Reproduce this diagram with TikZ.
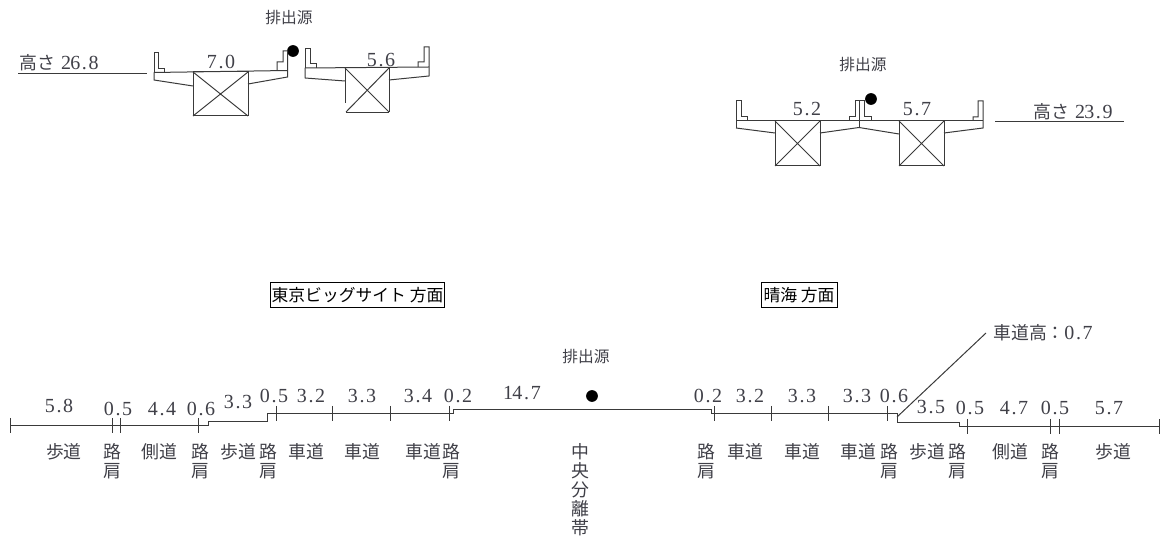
\documentclass[tikz,border=0pt]{standalone}
\usepackage{fontspec}
\setmainfont{Liberation Serif}
\newfontfamily\cjk{Noto Sans CJK JP}
\newcommand{\cl}[1]{\makebox[6.9pt]{#1}}
\newcommand{\nlab}[2]{\cl{#1}\cl{.}\cl{#2}}
\newcommand{\nnlab}[3]{\cl{#1}\cl{#2}\cl{.}\cl{#3}}
\newcommand{\numsize}{\fontsize{15}{16}\selectfont}
\definecolor{ink}{HTML}{3A3A3A}
\definecolor{txt}{HTML}{404048}
\tikzset{
 ln/.style={draw=ink,line width=0.75pt,line join=miter},
 num/.style={text=txt,font=\numsize,inner sep=0pt},
 cat/.style={text=txt,font=\cjk\fontsize{13.4}{14.25}\selectfont,inner sep=0pt,align=center,anchor=north},
 src/.style={text=txt,font=\cjk\fontsize{11.8}{14}\selectfont,inner sep=0pt},
 dir/.style={text=black,font=\cjk\fontsize{12.6}{14}\selectfont,inner sep=0pt,draw=black,line width=0.75pt,minimum height=19pt},
 dot/.style={circle,fill=black,inner sep=0pt,minimum size=8.8pt},
}
\begin{document}
\begin{tikzpicture}[x=0.75pt,y=-0.75pt]
\useasboundingbox (0,0) rectangle (1165,541);
% upper left
\node[src] (srcA) at (289,18) {排出源};
\node[dot] (dotA) at (293,51) {};
\draw[ln] (18,74) -- (147,74);
\node[cat,anchor=center] (hA) at (59,63) {高さ\,\,{\rmfamily\numsize\nnlab{2}{6}{8}}};
\node[num] (a70) at (221,62) {\nlab{7}{0}};
\node[num] (a56) at (381,60) {\nlab{5}{6}};
\draw[ln] (154,72.5) -- (154,53) -- (158.5,53) -- (158.5,69) -- (164,69) -- (164,72);
\draw[ln] (154,72.5) -- (287.5,70.5);
\draw[ln] (154,72.5) -- (154,80) -- (193,86);
\draw[ln] (193,72) rectangle (248,116);
\draw[ln] (193,72) -- (248,116) (248,72) -- (193,116);
\draw[ln] (248,84) -- (287.5,77) -- (287.5,51) -- (283,51) -- (283,62) -- (277,62) -- (277,70.5);
\draw[ln] (305,68) -- (305,49) -- (310,49) -- (310,64) -- (316,64) -- (316,68);
\draw[ln] (305,68) -- (429,67);
\draw[ln] (305,68) -- (305,78) -- (345,81);
\draw[ln] (345,103) -- (345,68) -- (389,68) -- (389,112);
\draw[ln,line width=1.2pt] (346,112.5) -- (389,112.5);
\draw[ln] (345,68) -- (389,112) (389,68) -- (346,112);
\draw[ln] (389,80) -- (429,76) -- (429,47) -- (424,47) -- (424,62) -- (418,62) -- (418,67);
% upper right
\node[src] (srcB) at (863,65) {排出源};
\node[dot] (dotB) at (871,99) {};
\draw[ln] (995,121.5) -- (1124,121.5);
\node[cat,anchor=center] (hB) at (1073,112) {高さ\,\,{\rmfamily\numsize\nnlab{2}{3}{9}}};
\node[num] (b52) at (807,109) {\nlab{5}{2}};
\node[num] (b57) at (917,109) {\nlab{5}{7}};
\draw[ln] (736,121) -- (983,121);
\draw[ln] (736,128) -- (736,101) -- (741,101) -- (741,117) -- (747,117) -- (747,121);
\draw[ln] (736,128) -- (775,133);
\draw[ln] (775,121) rectangle (820,166);
\draw[ln] (775,121) -- (820,166) (820,121) -- (775,166);
\draw[ln] (820,133) -- (859,127.5) -- (899,134);
\draw[ln] (859,128) -- (859,101) -- (855,101) -- (855,117) -- (849,117) -- (849,121);
\draw[ln] (859,101) -- (864,101) -- (864,117) -- (871,117) -- (871,121);
\draw[ln] (899,121) rectangle (944,166);
\draw[ln] (899,121) -- (944,166) (944,121) -- (899,166);
\draw[ln] (944,133) -- (983,128) -- (983,101) -- (978,101) -- (978,117) -- (973,117) -- (973,121);
% direction boxes
\node[dir,minimum width=131pt] (dirA) at (357.5,295) {東京ビッグサイト 方面};
\node[dir,minimum width=57pt] (dirB) at (799,295) {晴海 方面};
% road profile
\node[src] (srcC) at (586,357) {排出源};
\node[dot] (dotC) at (592,396) {};
\draw[ln] (10,426) -- (208,426) -- (208,422) -- (267,422) -- (267,414) -- (453,414) -- (453,410) -- (711,410) -- (711,414) -- (897,414) -- (897,423) -- (959,423) -- (959,427) -- (1159,427);
\foreach \x in {10,112,120,198} \draw[ln] (\x,418) -- (\x,433);
\foreach \x in {276,332,390,449,714,771,828,887} \draw[ln] (\x,406) -- (\x,421);
\foreach \x in {967,1050,1059,1159} \draw[ln] (\x,419) -- (\x,434);
\coordinate (lead) at (897,417);
\node[cat,anchor=west] (carH) at (993,333) {車道高：{\rmfamily\numsize\nlab{0}{7}}};
\draw[ln] (lead) -- (986,333);
% numbers
\foreach \i/\x/\y/\a/\b in {1/59/406/5/8,2/118/409/0/5,3/162/409/4/4,4/201/409/0/6,5/238/402/3/3,6/274/396/0/5,7/311/396/3/2,8/362/396/3/3,9/418/396/3/4,10/458/396/0/2,11/708/396/0/2,12/750/396/3/2,13/802/396/3/3,14/857/396/3/3,15/894/396/0/6,16/931/407/3/5,17/970/408/0/5,18/1014/408/4/7,19/1055/408/0/5,20/1109/408/5/7}
  \node[num] (v\i) at (\x,\y) {\nlab{\a}{\b}};
\node[num] (v147) at (522,393) {\nnlab{1}{4}{7}};
% categories
\foreach \i/\x/\t in {1/64/歩道,2/159/側道,3/238/歩道,4/306/車道,5/362/車道,6/423/車道,7/745/車道,8/802/車道,9/858/車道,10/927/歩道,11/1010/側道,12/1113/歩道}
  \node[cat] (c\i) at (\x,443) {\t};
\foreach \i/\x in {1/112,2/200,3/268,4/451,5/706,6/889,7/957,8/1050}
  \node[cat] (s\i) at (\x,443) {路\\肩};
\node[cat] (med) at (580,443) {中\\央\\分\\離\\帯};
\end{tikzpicture}
\end{document}
